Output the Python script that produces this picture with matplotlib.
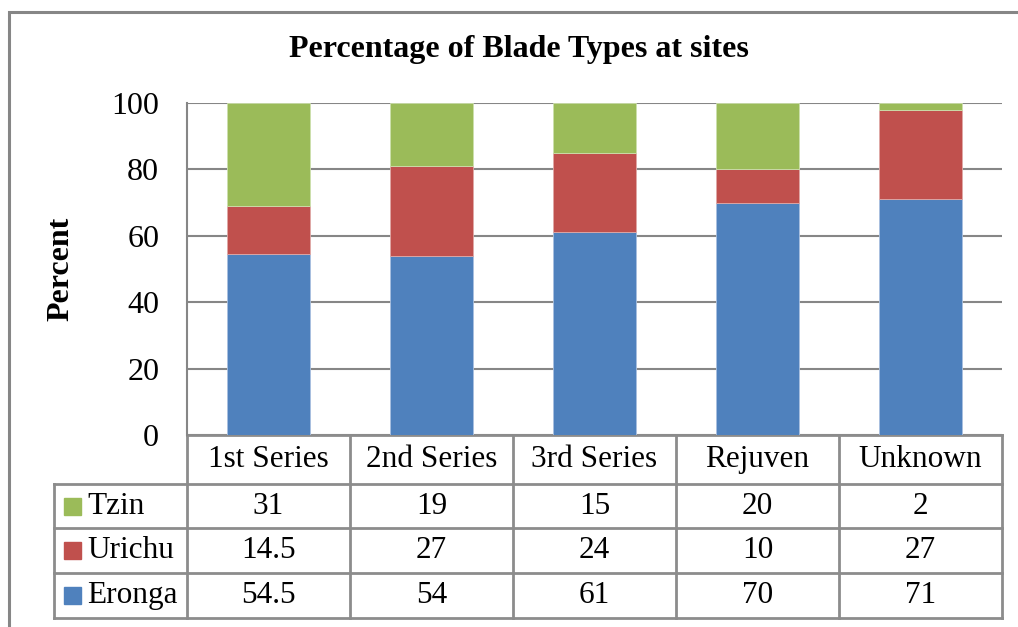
import matplotlib.pyplot as plt
from matplotlib.patches import Rectangle

plt.rcParams['font.family'] = ['Liberation Serif', 'DejaVu Serif']

categories = ['1st Series', '2nd Series', '3rd Series', 'Rejuven', 'Unknown']
eronga = [54.5, 54, 61, 70, 71]
urichu = [14.5, 27, 24, 10, 27]
tzin = [31, 19, 15, 20, 2]
series_names = ['Tzin', 'Urichu', 'Eronga']
colors = {'Eronga': '#4F81BD', 'Urichu': '#C0504D', 'Tzin': '#9BBB59'}
yticks = [0, 20, 40, 60, 80, 100]

W, H = 1018, 627
fig = plt.figure(figsize=(W / 100, H / 100), dpi=100)

# outer chart border (cropped at right/bottom)
fig.patches.append(Rectangle((8.5 / W, -0.1), 1.1, (H - 11.5) / H + 0.1,
                             transform=fig.transFigure, fill=False,
                             edgecolor='#868686', linewidth=2.2))

L, R, T, B = 187, 1002, 103, 435
ax = fig.add_axes([L / W, 1 - B / H, (R - L) / W, (B - T) / H])

x = list(range(len(categories)))
bw = 0.51
ax.bar(x, eronga, bw, color=colors['Eronga'], edgecolor='#a9c0e0', linewidth=0.6, zorder=3)
ax.bar(x, urichu, bw, bottom=eronga, color=colors['Urichu'], edgecolor='#e0a9a7', linewidth=0.6, zorder=3)
bott = [a + b for a, b in zip(eronga, urichu)]
ax.bar(x, tzin, bw, bottom=bott, color=colors['Tzin'], edgecolor='#cde0ad', linewidth=0.6, zorder=3)

ax.set_xlim(-0.5, len(categories) - 0.5)
ax.set_ylim(0, 100)
ax.set_yticks(yticks)
ax.set_yticklabels([str(v) for v in yticks], fontsize=23)
ax.tick_params(axis='y', length=0, pad=20)
ax.set_xticks([])
ax.grid(axis='y', color='#868686', linewidth=1.5, zorder=0)
for s in ['top', 'right', 'bottom']:
    ax.spines[s].set_visible(False)
ax.spines['left'].set_color('#868686')
ax.spines['left'].set_linewidth(1.5)

fig.text(519 / W, 1 - 50 / H, 'Percentage of Blade Types at sites', fontsize=23,
         fontweight='bold', ha='center', va='center')
ax.set_ylabel('Percent', fontsize=23, fontweight='bold', labelpad=26)

# data table below the plot
lc = '#8c8c8c'
lw = 2.0
def ay(py):
    return (B - py) / (B - T)

row_edges = [435, 484, 528, 573, 618]
lab_left = (54 - L) / (R - L)
n = len(categories)
for i in range(n + 1):
    ax.plot([i / n, i / n], [ay(row_edges[0]), ay(row_edges[-1])], transform=ax.transAxes,
            color=lc, lw=lw, clip_on=False, solid_capstyle='projecting')
ax.plot([lab_left, lab_left], [ay(row_edges[1]), ay(row_edges[-1])], transform=ax.transAxes,
        color=lc, lw=lw, clip_on=False, solid_capstyle='projecting')
ax.plot([0, 1], [ay(row_edges[0])] * 2, transform=ax.transAxes, color=lc, lw=lw, clip_on=False)
for py in row_edges[1:]:
    ax.plot([lab_left, 1], [ay(py)] * 2, transform=ax.transAxes, color=lc, lw=lw, clip_on=False)

for i, c in enumerate(categories):
    ax.text((i + 0.5) / n, ay((row_edges[0] + row_edges[1]) / 2), c, transform=ax.transAxes,
            ha='center', va='center', fontsize=22.5)

rows = {'Tzin': tzin, 'Urichu': urichu, 'Eronga': eronga}
for r, name in enumerate(series_names):
    yc = ay((row_edges[r + 1] + row_edges[r + 2]) / 2)
    sq = 17 / (R - L)
    sqh = 17 / (B - T)
    ax.add_patch(Rectangle((lab_left + 10 / (R - L), yc - sqh / 2), sq, sqh,
                           transform=ax.transAxes, color=colors[name], clip_on=False))
    ax.text(lab_left + 33 / (R - L), yc, name, transform=ax.transAxes,
            ha='left', va='center', fontsize=22.5)
    for i, v in enumerate(rows[name]):
        ax.text((i + 0.5) / n, yc, f'{v:g}', transform=ax.transAxes,
                ha='center', va='center', fontsize=22.5)

fig.savefig('out.png', dpi=100)
